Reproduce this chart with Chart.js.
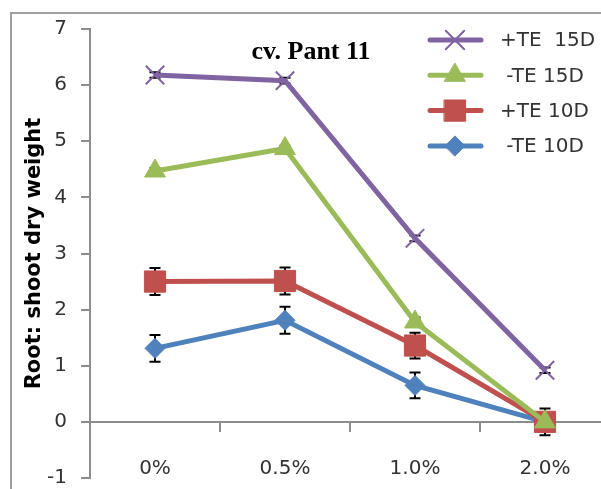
<!DOCTYPE html>
<html>
<head>
<meta charset="utf-8">
<script src="https://cdn.jsdelivr.net/npm/chart.js@4/dist/chart.umd.min.js"></script>
<style>
  body { margin: 0; overflow: hidden; background: #fff; }
  #wrap { position: relative; width: 630px; height: 494px; }
  #frame { position: absolute; left: 10px; top: 12px; width: 700px; height: 700px;
           border: 2px solid #a0a0a0; box-sizing: border-box; }
  canvas { position: absolute; left: 0; top: 0; }
</style>
</head>
<body>
<div id="wrap">
  <div id="frame"></div>
  <canvas id="rootShoot" width="630" height="494"></canvas>
</div>
<script>
///////////////////////////////
      /// DATA ///
//////////////////////////////

const categories = ['0%', '0.5%', '1.0%', '2.0%'];

const teplus15 = [6.18, 6.08, 3.27, 0.92];
const teminus15 = [4.47, 4.87, 1.78, 0.0];
const teplus10 = [2.50, 2.51, 1.36, 0.0];
const teminus10 = [1.31, 1.81, 0.65, 0.0];

const errPlus15 = [0.05, 0.05, 0.05, 0.05];
const errMinus15 = [0.05, 0.05, 0.08, 0.05];
const errPlus10 = [0.24, 0.24, 0.23, 0.24];
const errMinus10 = [0.24, 0.24, 0.23, 0.0];

const yTicks = [-1, 0, 1, 2, 3, 4, 5, 6, 7];

const seriesLabels = ['+TE  15D', ' -TE 15D', '+TE 10D', ' -TE 10D'];


///////////////////////////////
      /// PLUGINS ///
//////////////////////////////

// error bars, drawn behind the markers
const errorBars = {
    id: 'errorBars',
    beforeDatasetsDraw(chart) {
        const ctx = chart.ctx;
        const y = chart.scales.y;
        ctx.save();
        ctx.strokeStyle = '#000';
        ctx.lineWidth = 2;
        chart.data.datasets.forEach((ds, i) => {
            const meta = chart.getDatasetMeta(i);
            meta.data.forEach((pt, j) => {
                const e = ds.errors[j];
                if (!e) return;
                const top = y.getPixelForValue(ds.data[j] + e);
                const bot = y.getPixelForValue(ds.data[j] - e);
                ctx.beginPath();
                ctx.moveTo(pt.x, top); ctx.lineTo(pt.x, bot);
                ctx.moveTo(pt.x - 5.5, top); ctx.lineTo(pt.x + 5.5, top);
                ctx.moveTo(pt.x - 5.5, bot); ctx.lineTo(pt.x + 5.5, bot);
                ctx.stroke();
            });
        });
        ctx.restore();
    }
};

// title + legend box in the top right
const extras = {
    id: 'extras',
    afterDraw(chart) {
        const ctx = chart.ctx;
        ctx.save();
        ctx.fillStyle = '#000';
        ctx.font = 'bold 26px "Liberation Serif"';
        ctx.textAlign = 'center';
        ctx.textBaseline = 'middle';
        ctx.fillText('cv. Pant 11', 311, 52);

        ctx.font = '20px "DejaVu Sans"';
        ctx.textAlign = 'left';
        chart.data.datasets.forEach((ds, i) => {
            const ly = 40 + i * 35.3;
            ctx.strokeStyle = ds.borderColor;
            ctx.lineWidth = 5;
            ctx.lineCap = 'round';
            ctx.beginPath();
            ctx.moveTo(430, ly); ctx.lineTo(481, ly);
            ctx.stroke();
            ctx.fillStyle = ds.pointBackgroundColor;
            ctx.strokeStyle = ds.pointBorderColor;
            ctx.lineWidth = ds.pointBorderWidth;
            Chart.helpers.drawPoint(ctx, {
                pointStyle: ds.pointStyle, radius: ds.pointRadius, borderWidth: ds.pointBorderWidth
            }, 455, ly);
            ctx.fillStyle = '#333';
            ctx.fillText(ds.label, 500, ly + 1);
        });
        ctx.restore();
    }
};


///////////////////////////////
      /// CHART ///
//////////////////////////////

function series(label, data, errors, color, style, radius, pw) {
    return {
        label: label,
        data: data,
        errors: errors,
        borderColor: color,
        backgroundColor: color,
        pointBackgroundColor: color,
        pointBorderColor: color,
        pointBorderWidth: pw,
        pointStyle: style,
        pointRadius: radius,
        pointHoverRadius: radius,
        borderWidth: 5,
        tension: 0
    };
}

const ctx1 = document.getElementById('rootShoot').getContext('2d');
const myChart1 = new Chart(ctx1, {
    type: 'line',
    data: {
        labels: categories,
        datasets: [
            series(seriesLabels[0], teplus15, errPlus15, '#8064A2', 'crossRot', 13, 2),
            series(seriesLabels[1], teminus15, errMinus15, '#9BBB59', 'triangle', 12, 1),
            series(seriesLabels[2], teplus10, errPlus10, '#C0504D', 'rect', 15, 1),
            series(seriesLabels[3], teminus10, errMinus10, '#4F81BD', 'rectRot', 10, 1)
        ]
    },
    plugins: [errorBars, extras],
    options: {
        responsive: false,
        animation: false,
        layout: { padding: { left: 0, top: 29, right: 20, bottom: 7 } },
        plugins: {
            legend: { display: false },
            tooltip: { enabled: false }
        },
        scales: {
            x: {
                position: { y: 0 },
                offset: true,
                afterFit: s => { s.height = 0; s.paddingTop = 0; s.paddingBottom = 0; },
                grid: {
                    offset: true,
                    drawOnChartArea: false,
                    tickLength: 9,
                    color: '#8c8c8c',
                    lineWidth: 2
                },
                border: { color: '#8c8c8c', width: 2 },
                ticks: {
                    padding: 26,
                    color: '#333',
                    font: { family: 'DejaVu Sans', size: 20 }
                }
            },
            y: {
                min: -1,
                max: 7,
                afterBuildTicks: s => { s.ticks = yTicks.map(v => ({ value: v })); },
                afterFit: s => { s.width = 90; s.paddingTop = 0; s.paddingBottom = 0; },
                grid: {
                    drawOnChartArea: false,
                    tickLength: 9,
                    color: '#8c8c8c',
                    lineWidth: 2
                },
                border: { color: '#8c8c8c', width: 2 },
                ticks: {
                    padding: 14,
                    color: '#333',
                    font: { family: 'DejaVu Sans', size: 20 }
                },
                title: {
                    display: true,
                    text: 'Root: shoot dry weight',
                    color: '#000',
                    padding: { top: 22, bottom: 0 },
                    font: { family: 'DejaVu Sans', size: 21, weight: 'bold' }
                }
            }
        }
    }
});
</script>
</body>
</html>
